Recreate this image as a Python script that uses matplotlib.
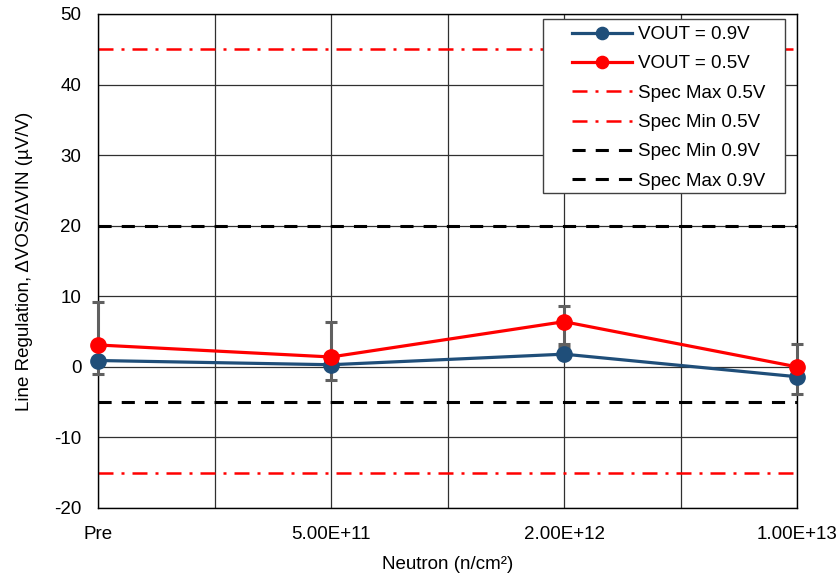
import matplotlib.pyplot as plt
from matplotlib.ticker import MultipleLocator
from matplotlib.patches import Rectangle

plt.rcParams['font.family'] = ['Liberation Sans', 'DejaVu Sans']
plt.rcParams['axes.unicode_minus'] = False

categories = ["Pre", "5.00E+11", "2.00E+12", "1.00E+13"]
vout_09 = [0.9, 0.3, 1.8, -1.4]
vout_05 = [3.1, 1.4, 6.4, 0.0]

# error bars (asymmetric)
err09_lo = [1.9, 2.2, 0.0, 2.4]
err09_hi = [0.0, 0.0, 1.5, 0.0]
err05_lo = [0.0, 0.0, 3.6, 0.0]
err05_hi = [6.1, 4.9, 2.2, 3.3]

spec_max_05 = 45
spec_min_05 = -15
spec_min_09 = -5
spec_max_09 = 20

x = list(range(len(categories)))
W, H = 838, 577

fig = plt.figure(figsize=(W / 100, H / 100), dpi=100)
ax = fig.add_axes([98 / W, 1 - 508 / H, 699 / W, 494 / H])

for vals, lo, hi in [(vout_09, err09_lo, err09_hi), (vout_05, err05_lo, err05_hi)]:
    eb = ax.errorbar(x, vals, yerr=[lo, hi], fmt="none", ecolor="#606060",
                     elinewidth=2.2, capsize=4, capthick=2.2, zorder=3)
    for art in eb.lines[1] + eb.lines[2]:
        art.set_clip_on(False)

ax.plot(x, vout_09, color="#1F4E79", lw=2.3, marker="o", ms=11,
        label="VOUT = 0.9V", zorder=4, clip_on=False)
ax.plot(x, vout_05, color="#FF0000", lw=2.3, marker="o", ms=11,
        label="VOUT = 0.5V", zorder=5, clip_on=False)

ax.axhline(spec_max_05, color="#FF0000", lw=1.8, dashes=(6, 3.2, 1.2, 3.2),
           label="Spec Max 0.5V", zorder=2)
ax.axhline(spec_min_05, color="#FF0000", lw=1.8, dashes=(6, 3.2, 1.2, 3.2),
           label="Spec Min 0.5V", zorder=2)
ax.axhline(spec_min_09, color="black", lw=2.2, dashes=(4.3, 3.3),
           label="Spec Min 0.9V", zorder=2)
ax.axhline(spec_max_09, color="black", lw=2.2, dashes=(4.3, 3.3),
           label="Spec Max 0.9V", zorder=2)

ax.set_xlim(0, 3)
ax.set_ylim(-20, 50)
ax.set_xticks(x)
ax.set_xticklabels(categories)
ax.xaxis.set_minor_locator(MultipleLocator(0.5))
ax.yaxis.set_major_locator(MultipleLocator(10))
ax.tick_params(axis="both", which="both", length=0, labelsize=13.5)
ax.tick_params(axis="x", pad=13)
ax.tick_params(axis="y", pad=12)
ax.grid(True, which="both", axis="x", color="#303030", lw=0.9)
ax.grid(True, which="major", axis="y", color="#303030", lw=0.9)
ax.set_axisbelow(True)
for s in ax.spines.values():
    s.set_color("black")
    s.set_linewidth(1)

ax.set_xlabel("Neutron (n/cm²)", fontsize=13.5, labelpad=9)
ax.set_ylabel("Line Regulation, ΔVOS/ΔVIN (µV/V)", fontsize=13.5, labelpad=15)

# legend box
box = Rectangle((543 / W, 1 - 193 / H), 242 / W, 174 / H, transform=fig.transFigure,
                facecolor="white", edgecolor="#404040", lw=1, zorder=6, clip_on=False)
ax.add_patch(box)

leg = ax.legend(loc="upper left", bbox_to_anchor=(572 / W, 1 - 26 / H),
                bbox_transform=fig.transFigure, fontsize=13.5, frameon=False,
                handlelength=3.2, labelspacing=0.65, borderpad=0,
                handletextpad=0.3, borderaxespad=0, markerscale=0.8)
leg.set_zorder(7)

fig.savefig("out.png", dpi=100)
